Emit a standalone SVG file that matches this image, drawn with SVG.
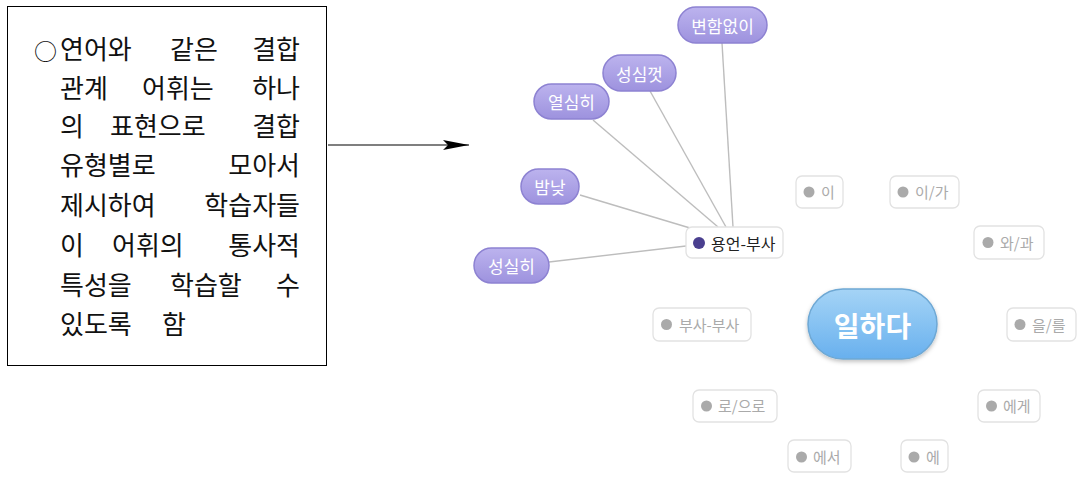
<svg xmlns="http://www.w3.org/2000/svg" width="1078" height="482" viewBox="0 0 1078 482">
<defs>
<style>
.kr{font-family:"Noto Sans CJK KR","Noto Sans",sans-serif}
.body{font-size:26px;fill:#111}
.pn rect{fill:url(#pg);stroke:#8d82d2;stroke-width:1.5}
.pn text{font-size:17px;fill:#fff;text-anchor:middle;dominant-baseline:central}
.gn rect{fill:#fff;stroke:#e2e2e2;stroke-width:1.3}
.gn circle{fill:#aaa}
.gn text{font-size:15px;fill:#aaa;dominant-baseline:central}
.conn line{stroke:#bdbdbd;stroke-width:1.4}
</style>
<linearGradient id="pg" x1="0" y1="0" x2="0" y2="1">
<stop offset="0" stop-color="#bcb3ee"/>
<stop offset="1" stop-color="#9d92de"/>
</linearGradient>
<linearGradient id="bg" x1="0" y1="0" x2="0" y2="1">
<stop offset="0" stop-color="#a5d4f6"/>
<stop offset="1" stop-color="#68b0ee"/>
</linearGradient>
<filter id="sh" x="-20%" y="-20%" width="140%" height="150%">
<feDropShadow dx="0" dy="2" stdDeviation="2" flood-color="#000" flood-opacity="0.25"/>
</filter>
<marker id="ah" markerWidth="26" markerHeight="10" refX="26" refY="5" orient="auto" markerUnits="userSpaceOnUse">
<path d="M0,0 L26,5 L0,10 L5,5 Z" fill="#000"/>
</marker>
</defs>
<rect width="1078" height="482" fill="#fff"/>

<g id="note">
<rect x="7.5" y="6.5" width="319" height="359" fill="#fff" stroke="#000" stroke-width="1"/>
<g class="kr body">
<text x="34" y="60" font-size="23">○</text>
<text x="60" y="59">연어와</text><text x="170" y="59">같은</text><text x="300" y="59" text-anchor="end">결합</text>
<text x="60" y="98">관계</text><text x="142" y="98">어휘는</text><text x="300" y="98" text-anchor="end">하나</text>
<text x="60" y="136">의</text><text x="110" y="136">표현으로</text><text x="300" y="136" text-anchor="end">결합</text>
<text x="60" y="175">유형별로</text><text x="300" y="175" text-anchor="end">모아서</text>
<text x="60" y="215">제시하여</text><text x="300" y="215" text-anchor="end">학습자들</text>
<text x="60" y="255">이</text><text x="112" y="255">어휘의</text><text x="300" y="255" text-anchor="end">통사적</text>
<text x="60" y="295">특성을</text><text x="170" y="295">학습할</text><text x="300" y="295" text-anchor="end">수</text>
<text x="60" y="334">있도록</text><text x="162" y="334">함</text>
</g>
</g>

<g id="connectors">
<line x1="328" y1="145" x2="469" y2="145" stroke="#000" stroke-width="1.2" marker-end="url(#ah)"/>
<g class="conn">
<line x1="722" y1="43" x2="733" y2="227"/>
<line x1="650" y1="91" x2="726" y2="227"/>
<line x1="593" y1="120" x2="718" y2="227"/>
<line x1="580" y1="195" x2="690" y2="228"/>
<line x1="549" y1="262" x2="686" y2="246"/>
</g>
</g>

<g id="n-byeonham" class="pn kr"><rect x="678" y="7" width="89" height="36" rx="18"/><text x="722.5" y="25">변함없이</text></g>
<g id="n-seongsimkkeot" class="pn kr"><rect x="603" y="55" width="73" height="36" rx="18"/><text x="639.5" y="73">성심껏</text></g>
<g id="n-yeolsimhi" class="pn kr"><rect x="534" y="84" width="75" height="35" rx="17.5"/><text x="571.5" y="101.5">열심히</text></g>
<g id="n-bamnat" class="pn kr"><rect x="521" y="169" width="58" height="35" rx="17.5"/><text x="550" y="186.5">밤낮</text></g>
<g id="n-seongsilhi" class="pn kr"><rect x="474" y="248" width="75" height="35" rx="17.5"/><text x="511.5" y="265.5">성실히</text></g>

<g id="n-yongeon" class="gn kr"><rect x="686" y="227" width="97" height="31" rx="6"/><circle cx="699" cy="243" r="6" style="fill:#4a3f8f"/><text x="711" y="242.5" style="fill:#222;font-size:16px">용언-부사</text></g>
<g id="n-i" class="gn kr"><rect x="796" y="176" width="47" height="32" rx="6"/><circle cx="809" cy="192" r="5.5"/><text x="821" y="191.5">이</text></g>
<g id="n-iga" class="gn kr"><rect x="890" y="176" width="69" height="32" rx="6"/><circle cx="903" cy="192" r="5.5"/><text x="915" y="191.5">이/가</text></g>
<g id="n-wagwa" class="gn kr"><rect x="974" y="226" width="70" height="33" rx="6"/><circle cx="988" cy="242.5" r="5.5"/><text x="1000" y="242">와/과</text></g>
<g id="n-busabusa" class="gn kr"><rect x="653" y="308" width="98" height="33" rx="6"/><circle cx="666.5" cy="324.5" r="5.5"/><text x="679" y="324">부사-부사</text></g>
<g id="n-eulreul" class="gn kr"><rect x="1007" y="308" width="69" height="33" rx="6"/><circle cx="1020" cy="324.5" r="5.5"/><text x="1032" y="324">을/를</text></g>
<g id="n-roeuro" class="gn kr"><rect x="693" y="390" width="84" height="32" rx="6"/><circle cx="706.5" cy="406" r="5.5"/><text x="718" y="405.5">로/으로</text></g>
<g id="n-ege" class="gn kr"><rect x="978" y="390" width="62" height="32" rx="6"/><circle cx="991.5" cy="406" r="5.5"/><text x="1003" y="405.5">에게</text></g>
<g id="n-eseo" class="gn kr"><rect x="788" y="440" width="63" height="32" rx="6"/><circle cx="801.5" cy="457" r="5.5"/><text x="813" y="456">에서</text></g>
<g id="n-e" class="gn kr"><rect x="901" y="440" width="47" height="32" rx="6"/><circle cx="914" cy="457" r="5.5"/><text x="926" y="456">에</text></g>

<g id="n-center" class="kr"><rect x="808" y="289" width="129" height="70" rx="35" fill="url(#bg)" stroke="#6ea8d4" stroke-width="1.5" filter="url(#sh)"/><text x="872.5" y="325" font-size="28" font-weight="bold" fill="#fff" text-anchor="middle" dominant-baseline="central">일하다</text></g>
</svg>
